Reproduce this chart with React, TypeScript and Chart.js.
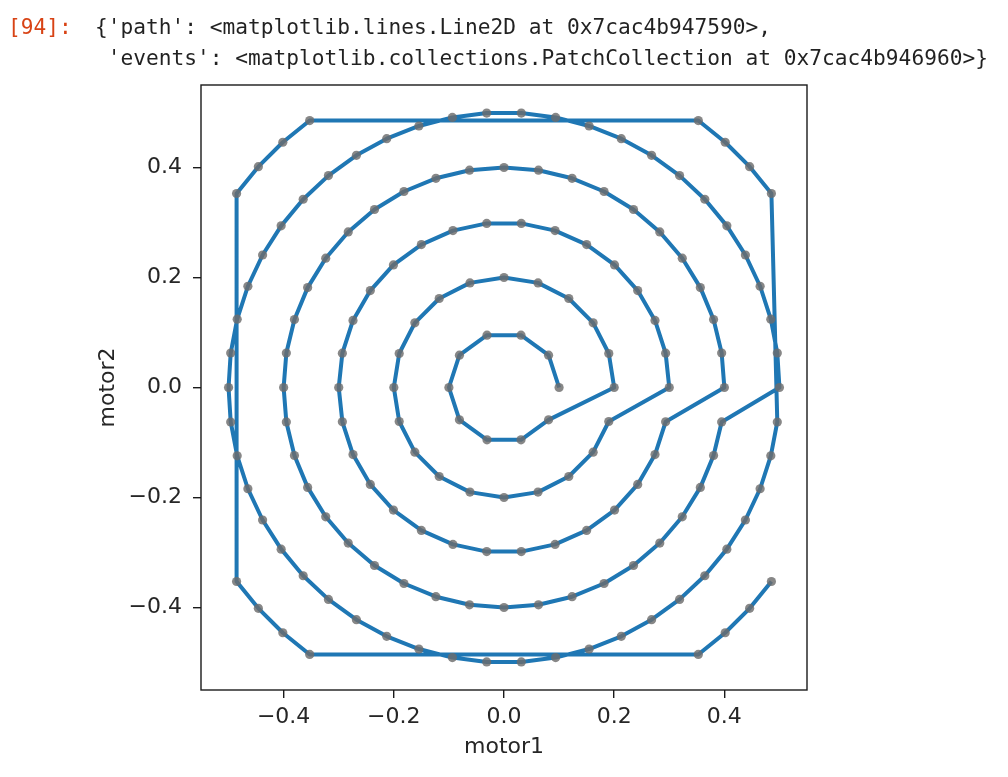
import React, { useEffect, useRef } from 'react';
import { Chart, registerables } from 'chart.js';

Chart.register(...registerables);

// Spiral scan positions, ring by ring (motor1 = x, motor2 = y)
const ring1X = [0.1, 0.0809, 0.0309, -0.0309, -0.0809, -0.1, -0.0809, -0.0309, 0.0309, 0.0809];
const ring1Y = [0, 0.0588, 0.0951, 0.0951, 0.0588, 0, -0.0588, -0.0951, -0.0951, -0.0588];

const ring2X = [0.2, 0.1902, 0.1618, 0.1176, 0.0618, 0, -0.0618, -0.1176, -0.1618, -0.1902,
  -0.2, -0.1902, -0.1618, -0.1176, -0.0618, 0, 0.0618, 0.1176, 0.1618, 0.1902];
const ring2Y = [0, 0.0618, 0.1176, 0.1618, 0.1902, 0.2, 0.1902, 0.1618, 0.1176, 0.0618,
  0, -0.0618, -0.1176, -0.1618, -0.1902, -0.2, -0.1902, -0.1618, -0.1176, -0.0618];

const ring3X = [0.3, 0.2934, 0.2741, 0.2427, 0.2007, 0.15, 0.0927, 0.0314, -0.0314, -0.0927,
  -0.15, -0.2007, -0.2427, -0.2741, -0.2934, -0.3, -0.2934, -0.2741, -0.2427, -0.2007,
  -0.15, -0.0927, -0.0314, 0.0314, 0.0927, 0.15, 0.2007, 0.2427, 0.2741, 0.2934];
const ring3Y = [0, 0.0624, 0.122, 0.1763, 0.2229, 0.2598, 0.2853, 0.2984, 0.2984, 0.2853,
  0.2598, 0.2229, 0.1763, 0.122, 0.0624, 0, -0.0624, -0.122, -0.1763, -0.2229,
  -0.2598, -0.2853, -0.2984, -0.2984, -0.2853, -0.2598, -0.2229, -0.1763, -0.122, -0.0624];

const ring4X = [0.4, 0.3951, 0.3804, 0.3564, 0.3236, 0.2828, 0.2351, 0.1816, 0.1236, 0.0626,
  0, -0.0626, -0.1236, -0.1816, -0.2351, -0.2828, -0.3236, -0.3564, -0.3804, -0.3951,
  -0.4, -0.3951, -0.3804, -0.3564, -0.3236, -0.2828, -0.2351, -0.1816, -0.1236, -0.0626,
  0, 0.0626, 0.1236, 0.1816, 0.2351, 0.2828, 0.3236, 0.3564, 0.3804, 0.3951];
const ring4Y = [0, 0.0626, 0.1236, 0.1816, 0.2351, 0.2828, 0.3236, 0.3564, 0.3804, 0.3951,
  0.4, 0.3951, 0.3804, 0.3564, 0.3236, 0.2828, 0.2351, 0.1816, 0.1236, 0.0626,
  0, -0.0626, -0.1236, -0.1816, -0.2351, -0.2828, -0.3236, -0.3564, -0.3804, -0.3951,
  -0.4, -0.3951, -0.3804, -0.3564, -0.3236, -0.2828, -0.2351, -0.1816, -0.1236, -0.0626];

const ring5X = [0.5, 0.4961, 0.4843, 0.4649, 0.4382, 0.4045, 0.3645, 0.3187, 0.2679, 0.2129, 0.1545, 0.0937, 0.0314,
  -0.0314, -0.0937, -0.1545, -0.2129, -0.2679, -0.3187, -0.3645, -0.4045, -0.4382, -0.4649, -0.4843, -0.4961,
  -0.5,
  -0.4961, -0.4843, -0.4649, -0.4382, -0.4045, -0.3645, -0.3187, -0.2679, -0.2129, -0.1545, -0.0937, -0.0314,
  0.0314, 0.0937, 0.1545, 0.2129, 0.2679, 0.3187, 0.3645, 0.4045, 0.4382, 0.4649, 0.4843, 0.4961];
const ring5Y = [0, 0.0627, 0.1243, 0.1841, 0.2409, 0.2939, 0.3423, 0.3853, 0.4222, 0.4524, 0.4755, 0.4911, 0.499,
  0.499, 0.4911, 0.4755, 0.4524, 0.4222, 0.3853, 0.3423, 0.2939, 0.2409, 0.1841, 0.1243, 0.0627,
  0,
  -0.0627, -0.1243, -0.1841, -0.2409, -0.2939, -0.3423, -0.3853, -0.4222, -0.4524, -0.4755, -0.4911, -0.499,
  -0.499, -0.4911, -0.4755, -0.4524, -0.4222, -0.3853, -0.3423, -0.2939, -0.2409, -0.1841, -0.1243, -0.0627];

const ring6X = [0.4854, 0.4459, 0.4015, 0.3527, -0.3527, -0.4015, -0.4459, -0.4854,
  -0.4854, -0.4459, -0.4015, -0.3527, 0.3527, 0.4015, 0.4459, 0.4854];
const ring6Y = [0.3527, 0.4015, 0.4459, 0.4854, 0.4854, 0.4459, 0.4015, 0.3527,
  -0.3527, -0.4015, -0.4459, -0.4854, -0.4854, -0.4459, -0.4015, -0.3527];

const tickValues = [-0.4, -0.2, 0, 0.2, 0.4];
const xTickLabels = ['\u22120.4', '\u22120.2', '0.0', '0.2', '0.4'];
const yTickLabels = ['\u22120.4', '\u22120.2', '0.0', '0.2', '0.4'];

const promptText = '[94]:';
const outLine1 = "{'path': <matplotlib.lines.Line2D at 0x7cac4b947590>,";
const outLine2 = " 'events': <matplotlib.collections.PatchCollection at 0x7cac4b946960>}";

const allX = [...ring1X, ...ring2X, ...ring3X, ...ring4X, ...ring5X, ...ring6X];
const allY = [...ring1Y, ...ring2Y, ...ring3Y, ...ring4Y, ...ring5Y, ...ring6Y];

const framePlugin = {
  id: 'frame',
  afterDatasetsDraw(chart: any) {
    const { ctx, chartArea: a } = chart;
    ctx.save();
    ctx.strokeStyle = '#1a1a1a';
    ctx.lineWidth = 1.4;
    ctx.strokeRect(a.left, a.top, a.right - a.left, a.bottom - a.top);
    ctx.restore();
  },
};

export default function App() {
  const ref = useRef<HTMLCanvasElement | null>(null);

  useEffect(() => {
    if (!ref.current) return;
    const pts = allX.map((x, i) => ({ x, y: allY[i] }));
    const font = { family: 'DejaVu Sans', size: 22 };
    const ink = '#262626';
    const grid = { display: true, drawOnChartArea: false, drawTicks: true, tickLength: 8, color: '#1a1a1a', lineWidth: 1.4 };
    const chart = new Chart(ref.current, {
      type: 'scatter',
      data: {
        datasets: [
          {
            label: 'events',
            data: pts,
            showLine: false,
            pointRadius: 4.6,
            pointBackgroundColor: 'rgba(108,108,108,0.82)',
            pointBorderWidth: 0,
            pointHoverRadius: 4.6,
            order: 0,
          },
          {
            label: 'path',
            data: pts,
            showLine: true,
            borderColor: '#1f77b4',
            borderWidth: 4,
            borderJoinStyle: 'round',
            pointRadius: 0,
            pointHoverRadius: 0,
            tension: 0,
            fill: false,
            order: 1,
          },
        ],
      } as any,
      options: {
        animation: false,
        responsive: false,
        events: [],
        layout: { padding: { left: 0, top: 85, right: 201, bottom: 0 } },
        plugins: { legend: { display: false }, tooltip: { enabled: false } },
        scales: {
          x: {
            type: 'linear',
            position: 'bottom',
            min: -0.55,
            max: 0.55,
            afterFit: (s: any) => { s.height = 87; },
            afterBuildTicks: (s: any) => { s.ticks = tickValues.map((v) => ({ value: v })); },
            ticks: {
              callback: (_v: any, i: number) => xTickLabels[i],
              font,
              color: ink,
              padding: 6,
              maxRotation: 0,
              autoSkip: false,
            },
            grid,
            border: { display: false },
            title: { display: true, text: 'motor1', font, color: ink, padding: { top: 0, bottom: 17 } },
          },
          y: {
            type: 'linear',
            position: 'left',
            min: -0.55,
            max: 0.55,
            afterFit: (s: any) => { s.width = 201; },
            afterBuildTicks: (s: any) => { s.ticks = tickValues.map((v) => ({ value: v })); },
            ticks: {
              callback: (_v: any, i: number) => yTickLabels[i],
              font,
              color: ink,
              padding: 11,
              autoSkip: false,
            },
            grid,
            border: { display: false },
            title: { display: true, text: 'motor2', font, color: ink, padding: { top: 95, bottom: 0 } },
          },
        },
      } as any,
      plugins: [framePlugin],
    });
    return () => chart.destroy();
  }, []);

  const mono: React.CSSProperties = {
    position: 'absolute',
    fontFamily: '"DejaVu Sans Mono", monospace',
    fontSize: '21.2px',
    lineHeight: '31px',
    whiteSpace: 'pre',
    margin: 0,
  };

  return (
    <div style={{ position: 'absolute', left: 0, top: 0, width: 1008, height: 777, background: '#fff', overflow: 'hidden' }}>
      <canvas ref={ref} width={1008} height={777} style={{ position: 'absolute', left: 0, top: 0 }} />
      <div style={{ ...mono, left: 8, top: 11, color: '#D84315' }}>{promptText}</div>
      <div style={{ ...mono, left: 95, top: 11, color: 'rgba(0,0,0,0.87)' }}>{outLine1 + '\n' + outLine2}</div>
    </div>
  );
}
